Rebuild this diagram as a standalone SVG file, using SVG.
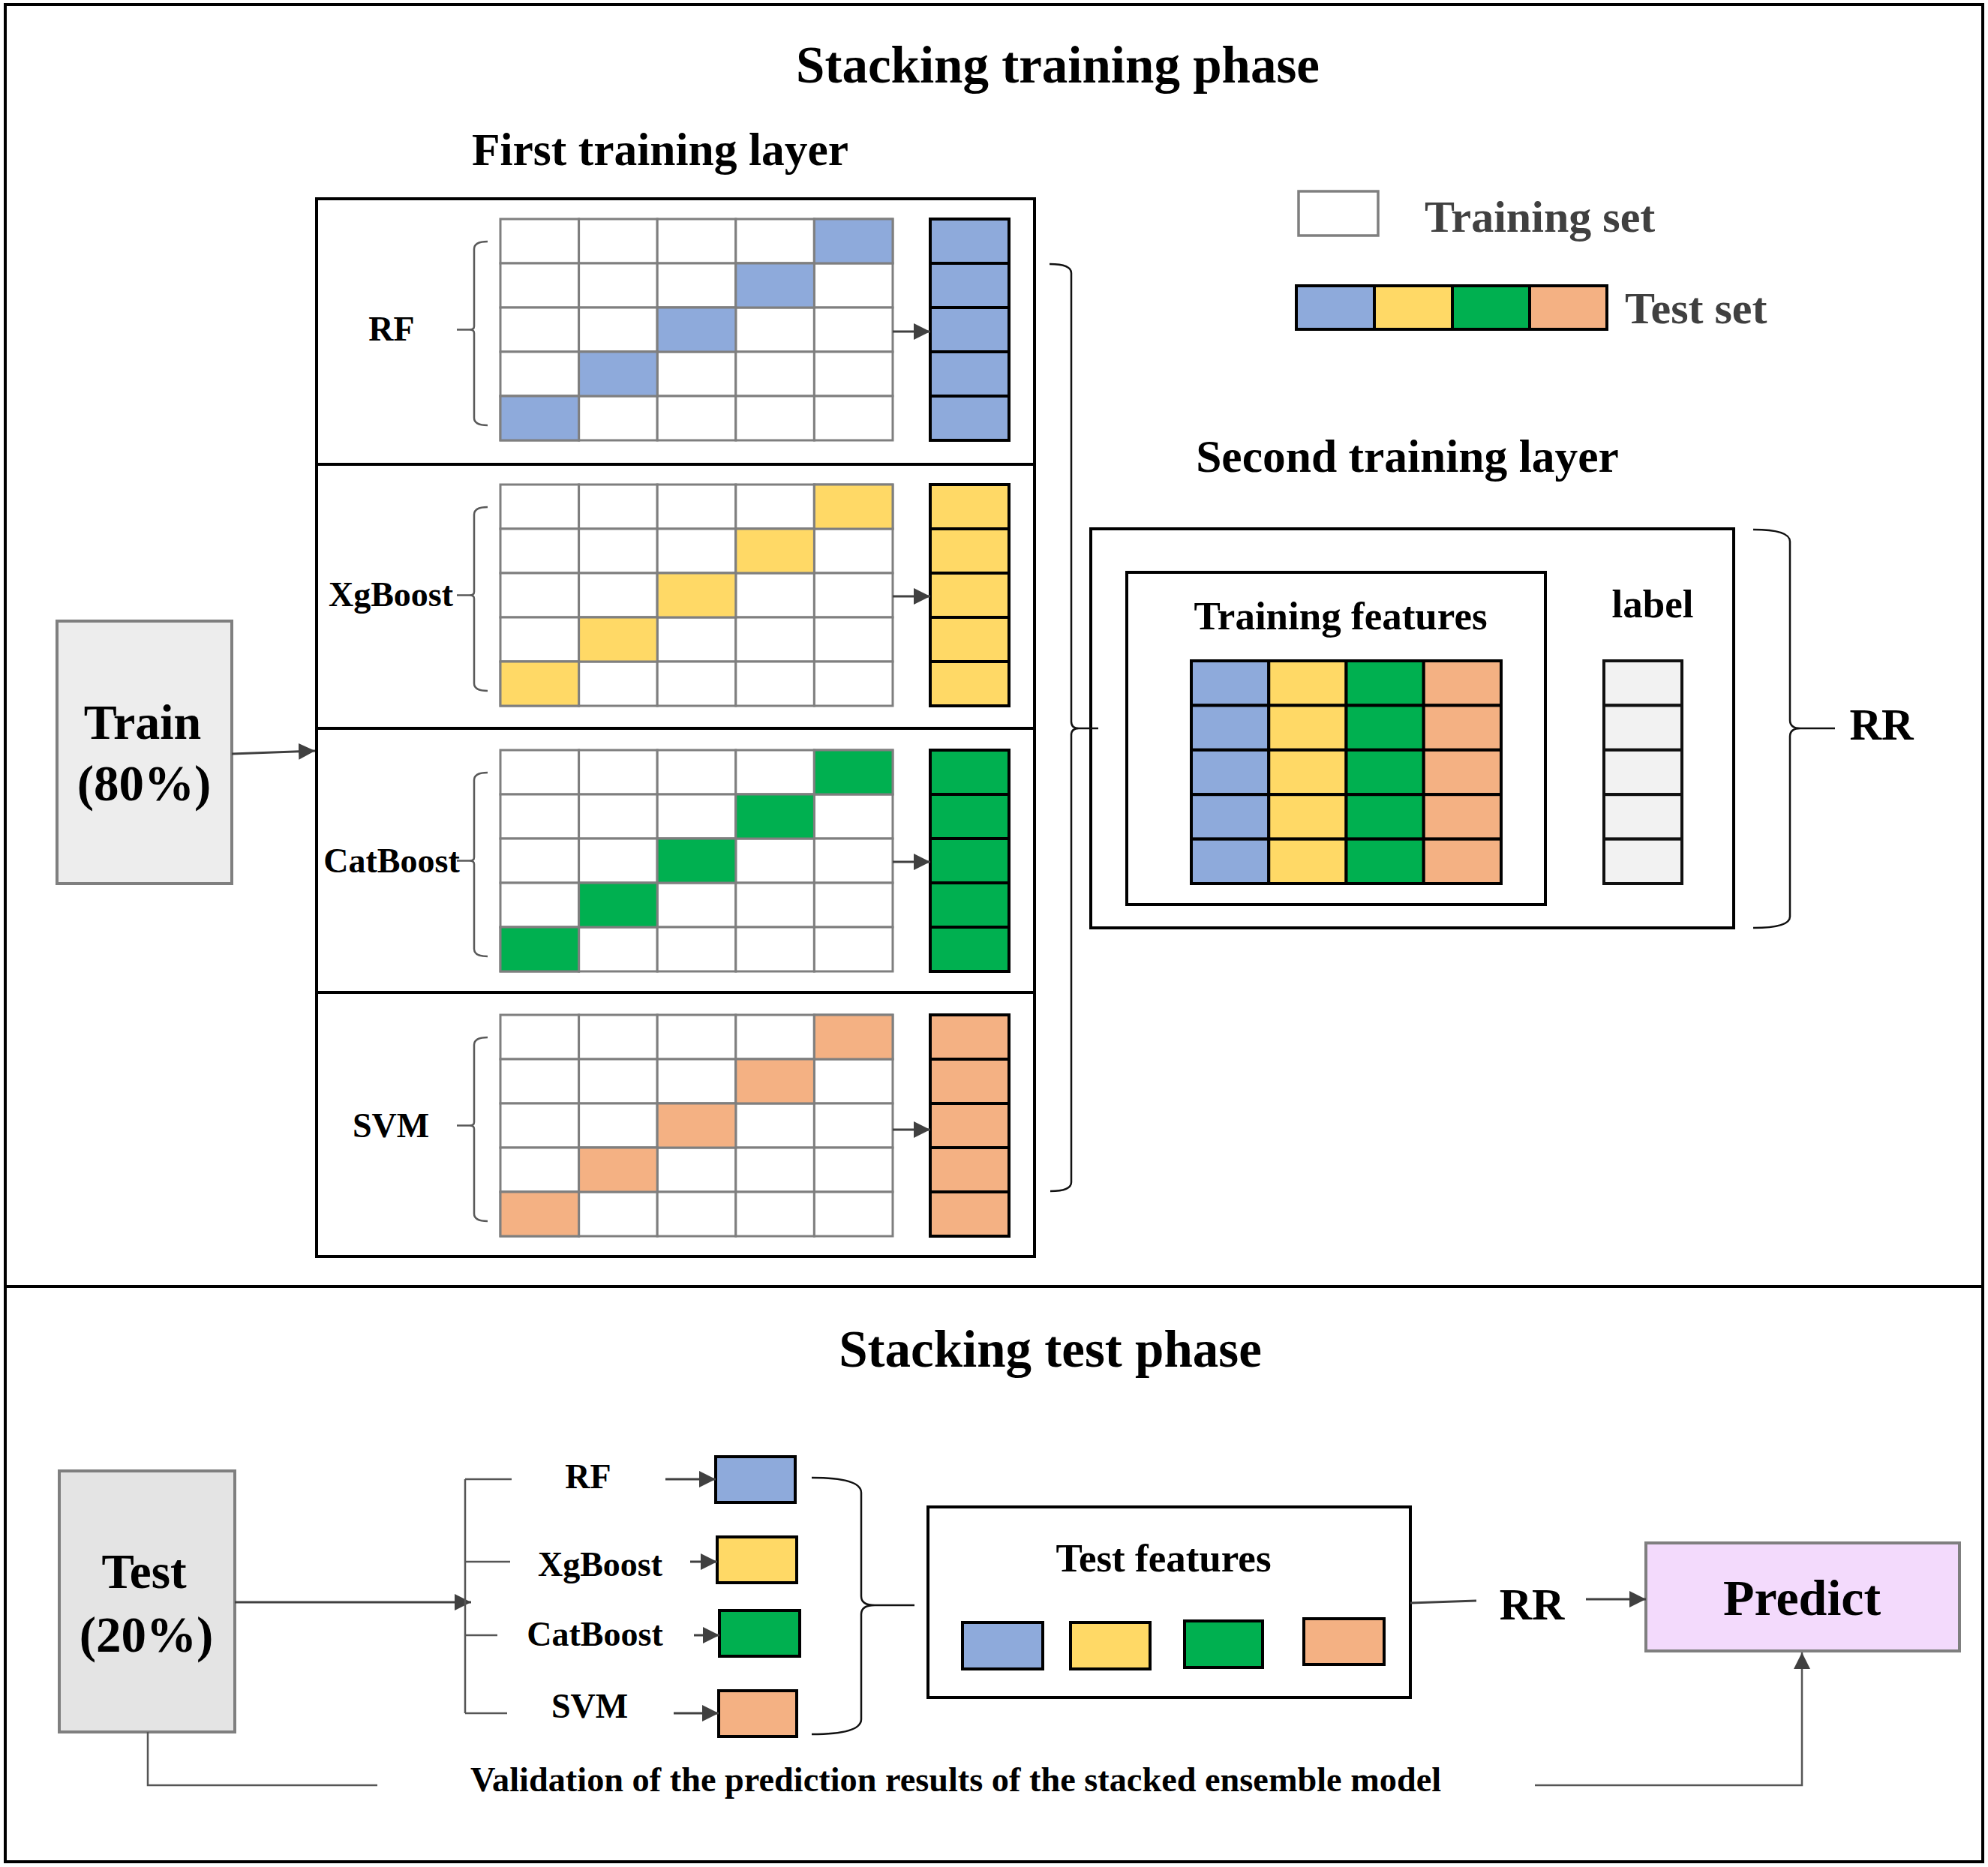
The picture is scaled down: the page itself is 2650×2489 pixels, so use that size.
<svg xmlns="http://www.w3.org/2000/svg" width="2650" height="2489" viewBox="0 0 2650 2489">
<defs>
<style>
text{font-family:"Liberation Serif","Times New Roman",serif;font-weight:bold;fill:#000}
.title{font-size:69px;text-anchor:middle}
.sub{font-size:61.5px;text-anchor:middle}
.lbl{font-size:46px;text-anchor:middle}
.leg{font-size:60px;fill:#404040}
.mid{font-size:53px;text-anchor:middle}
.cell{fill:#fff;stroke:#7f7f7f;stroke-width:3}
.res{stroke:#000;stroke-width:4}
.blk{stroke:#000;stroke-width:4}
.b{fill:#8eaadb}.y{fill:#ffd966}.g{fill:#00b050}.o{fill:#f4b183}
.brace{fill:none;stroke:#595959;stroke-width:2.5}
.bigbrace{fill:none;stroke:#111;stroke-width:2.5}
.con{fill:none;stroke:#404040;stroke-width:3}
.thin{fill:none;stroke:#555;stroke-width:2.5}
.panel{fill:#fff;stroke:#000;stroke-width:4}
</style>
<marker id="ah" viewBox="0 0 10 10" refX="10" refY="5" markerWidth="22" markerHeight="22" markerUnits="userSpaceOnUse" orient="auto">
<path d="M0,0 L10,5 L0,10 Z" fill="#404040"/>
</marker>
<g id="gridcells">
<rect class="cell" x="667" y="0" width="104.6" height="59"/><rect class="cell" x="771.6" y="0" width="104.6" height="59"/><rect class="cell" x="876.2" y="0" width="104.6" height="59"/><rect class="cell" x="980.8" y="0" width="104.6" height="59"/><rect class="cell" x="1085.4" y="0" width="104.6" height="59"/>
<rect class="cell" x="667" y="59" width="104.6" height="59"/><rect class="cell" x="771.6" y="59" width="104.6" height="59"/><rect class="cell" x="876.2" y="59" width="104.6" height="59"/><rect class="cell" x="980.8" y="59" width="104.6" height="59"/><rect class="cell" x="1085.4" y="59" width="104.6" height="59"/>
<rect class="cell" x="667" y="118" width="104.6" height="59"/><rect class="cell" x="771.6" y="118" width="104.6" height="59"/><rect class="cell" x="876.2" y="118" width="104.6" height="59"/><rect class="cell" x="980.8" y="118" width="104.6" height="59"/><rect class="cell" x="1085.4" y="118" width="104.6" height="59"/>
<rect class="cell" x="667" y="177" width="104.6" height="59"/><rect class="cell" x="771.6" y="177" width="104.6" height="59"/><rect class="cell" x="876.2" y="177" width="104.6" height="59"/><rect class="cell" x="980.8" y="177" width="104.6" height="59"/><rect class="cell" x="1085.4" y="177" width="104.6" height="59"/>
<rect class="cell" x="667" y="236" width="104.6" height="59"/><rect class="cell" x="771.6" y="236" width="104.6" height="59"/><rect class="cell" x="876.2" y="236" width="104.6" height="59"/><rect class="cell" x="980.8" y="236" width="104.6" height="59"/><rect class="cell" x="1085.4" y="236" width="104.6" height="59"/>
</g>
<path id="mbrace" class="brace" d="M650,30 Q632,30 632,40 L632,143 Q632,147.5 626,147.5 L609,147.5 M626,147.5 Q632,147.5 632,152 L632,265 Q632,275 650,275"/>
</defs>

<rect x="7" y="6" width="2636" height="2476" fill="#fff" stroke="#000" stroke-width="4"/>
<line x1="7" y1="1715" x2="2643" y2="1715" stroke="#000" stroke-width="4"/>

<text class="title" x="1410" y="110">Stacking training phase</text>
<text class="sub" x="880" y="220">First training layer</text>
<text class="sub" x="1876" y="629">Second training layer</text>
<text class="title" x="1400" y="1822">Stacking test phase</text>

<g id="legend">
<rect x="1731" y="255" width="106" height="59" fill="#fff" stroke="#7f7f7f" stroke-width="3.5"/>
<text class="leg" x="1899" y="309">Training set</text>
<rect class="b" x="1728" y="381" width="104" height="58"/><rect class="y" x="1832" y="381" width="104" height="58"/><rect class="g" x="1936" y="381" width="103" height="58"/><rect class="o" x="2039" y="381" width="103" height="58"/>
<g fill="none" stroke="#000" stroke-width="4"><rect x="1728" y="381" width="414" height="58"/><line x1="1832" y1="381" x2="1832" y2="439"/><line x1="1936" y1="381" x2="1936" y2="439"/><line x1="2039" y1="381" x2="2039" y2="439"/></g>
<text class="leg" x="2166" y="431">Test set</text>
</g>

<g id="train">
<rect x="76" y="828" width="233" height="350" fill="#ededed" stroke="#7f7f7f" stroke-width="4"/>
<text x="190" y="985" font-size="66" text-anchor="middle">Train</text>
<text x="192" y="1067" font-size="67" text-anchor="middle">(80%)</text>
</g>

<g id="panel-rf">
<rect class="panel" x="422" y="265" width="957" height="354"/>
<use href="#gridcells" y="292"/>
<rect class="b" x="1085.4" y="292" width="104.6" height="59" stroke="#7f7f7f" stroke-width="3"/>
<rect class="b" x="980.8" y="351" width="104.6" height="59" stroke="#7f7f7f" stroke-width="3"/>
<rect class="b" x="876.2" y="410" width="104.6" height="59" stroke="#7f7f7f" stroke-width="3"/>
<rect class="b" x="771.6" y="469" width="104.6" height="59" stroke="#7f7f7f" stroke-width="3"/>
<rect class="b" x="667" y="528" width="104.6" height="59" stroke="#7f7f7f" stroke-width="3"/>
<g class="res"><rect class="b" x="1240" y="292" width="105" height="59"/><rect class="b" x="1240" y="351" width="105" height="59"/><rect class="b" x="1240" y="410" width="105" height="59"/><rect class="b" x="1240" y="469" width="105" height="59"/><rect class="b" x="1240" y="528" width="105" height="59"/></g>
<use href="#mbrace" y="292"/>
<text class="lbl" x="522" y="454">RF</text>
</g>

<g id="panel-xgb">
<rect class="panel" x="422" y="619" width="957" height="352"/>
<use href="#gridcells" y="646"/>
<rect class="y" x="1085.4" y="646" width="104.6" height="59" stroke="#7f7f7f" stroke-width="3"/>
<rect class="y" x="980.8" y="705" width="104.6" height="59" stroke="#7f7f7f" stroke-width="3"/>
<rect class="y" x="876.2" y="764" width="104.6" height="59" stroke="#7f7f7f" stroke-width="3"/>
<rect class="y" x="771.6" y="823" width="104.6" height="59" stroke="#7f7f7f" stroke-width="3"/>
<rect class="y" x="667" y="882" width="104.6" height="59" stroke="#7f7f7f" stroke-width="3"/>
<g class="res"><rect class="y" x="1240" y="646" width="105" height="59"/><rect class="y" x="1240" y="705" width="105" height="59"/><rect class="y" x="1240" y="764" width="105" height="59"/><rect class="y" x="1240" y="823" width="105" height="59"/><rect class="y" x="1240" y="882" width="105" height="59"/></g>
<use href="#mbrace" y="646"/>
<text class="lbl" x="521" y="808">XgBoost</text>
</g>

<g id="panel-cat">
<rect class="panel" x="422" y="971" width="957" height="352"/>
<use href="#gridcells" y="1000"/>
<rect class="g" x="1085.4" y="1000" width="104.6" height="59" stroke="#7f7f7f" stroke-width="3"/>
<rect class="g" x="980.8" y="1059" width="104.6" height="59" stroke="#7f7f7f" stroke-width="3"/>
<rect class="g" x="876.2" y="1118" width="104.6" height="59" stroke="#7f7f7f" stroke-width="3"/>
<rect class="g" x="771.6" y="1177" width="104.6" height="59" stroke="#7f7f7f" stroke-width="3"/>
<rect class="g" x="667" y="1236" width="104.6" height="59" stroke="#7f7f7f" stroke-width="3"/>
<g class="res"><rect class="g" x="1240" y="1000" width="105" height="59"/><rect class="g" x="1240" y="1059" width="105" height="59"/><rect class="g" x="1240" y="1118" width="105" height="59"/><rect class="g" x="1240" y="1177" width="105" height="59"/><rect class="g" x="1240" y="1236" width="105" height="59"/></g>
<use href="#mbrace" y="1000"/>
<text class="lbl" x="522" y="1163">CatBoost</text>
</g>

<g id="panel-svm">
<rect class="panel" x="422" y="1323" width="957" height="352"/>
<use href="#gridcells" y="1353"/>
<rect class="o" x="1085.4" y="1353" width="104.6" height="59" stroke="#7f7f7f" stroke-width="3"/>
<rect class="o" x="980.8" y="1412" width="104.6" height="59" stroke="#7f7f7f" stroke-width="3"/>
<rect class="o" x="876.2" y="1471" width="104.6" height="59" stroke="#7f7f7f" stroke-width="3"/>
<rect class="o" x="771.6" y="1530" width="104.6" height="59" stroke="#7f7f7f" stroke-width="3"/>
<rect class="o" x="667" y="1589" width="104.6" height="59" stroke="#7f7f7f" stroke-width="3"/>
<g class="res"><rect class="o" x="1240" y="1353" width="105" height="59"/><rect class="o" x="1240" y="1412" width="105" height="59"/><rect class="o" x="1240" y="1471" width="105" height="59"/><rect class="o" x="1240" y="1530" width="105" height="59"/><rect class="o" x="1240" y="1589" width="105" height="59"/></g>
<use href="#mbrace" y="1353"/>
<text class="lbl" x="521" y="1516">SVM</text>
</g>

<g id="second-layer">
<rect x="1454" y="705" width="857" height="532" fill="#fff" stroke="#000" stroke-width="4"/>
<rect x="1502" y="763" width="558" height="443" fill="#fff" stroke="#000" stroke-width="4"/>
<text class="mid" x="1787" y="839">Training features</text>
<text class="mid" x="2203" y="823">label</text>
<g class="blk">
<rect class="b" x="1588" y="881" width="103.25" height="59.4"/><rect class="y" x="1691.25" y="881" width="103.25" height="59.4"/><rect class="g" x="1794.5" y="881" width="103.25" height="59.4"/><rect class="o" x="1897.75" y="881" width="103.25" height="59.4"/>
<rect class="b" x="1588" y="940.4" width="103.25" height="59.4"/><rect class="y" x="1691.25" y="940.4" width="103.25" height="59.4"/><rect class="g" x="1794.5" y="940.4" width="103.25" height="59.4"/><rect class="o" x="1897.75" y="940.4" width="103.25" height="59.4"/>
<rect class="b" x="1588" y="999.8" width="103.25" height="59.4"/><rect class="y" x="1691.25" y="999.8" width="103.25" height="59.4"/><rect class="g" x="1794.5" y="999.8" width="103.25" height="59.4"/><rect class="o" x="1897.75" y="999.8" width="103.25" height="59.4"/>
<rect class="b" x="1588" y="1059.2" width="103.25" height="59.4"/><rect class="y" x="1691.25" y="1059.2" width="103.25" height="59.4"/><rect class="g" x="1794.5" y="1059.2" width="103.25" height="59.4"/><rect class="o" x="1897.75" y="1059.2" width="103.25" height="59.4"/>
<rect class="b" x="1588" y="1118.6" width="103.25" height="59.4"/><rect class="y" x="1691.25" y="1118.6" width="103.25" height="59.4"/><rect class="g" x="1794.5" y="1118.6" width="103.25" height="59.4"/><rect class="o" x="1897.75" y="1118.6" width="103.25" height="59.4"/>
</g>
<g stroke="#111" stroke-width="4" fill="#f2f2f2">
<rect x="2138" y="881" width="104" height="59.4"/><rect x="2138" y="940.4" width="104" height="59.4"/><rect x="2138" y="999.8" width="104" height="59.4"/><rect x="2138" y="1059.2" width="104" height="59.4"/><rect x="2138" y="1118.6" width="104" height="59.4"/>
</g>
</g>

<g id="rr-train">
<text x="2508" y="986" font-size="59" text-anchor="middle">RR</text>
</g>

<g id="test">
<rect x="79" y="1961" width="234" height="348" fill="#e4e4e4" stroke="#7f7f7f" stroke-width="4"/>
<text x="192" y="2117" font-size="65" text-anchor="middle">Test</text>
<text x="195" y="2202" font-size="67" text-anchor="middle">(20%)</text>
</g>

<g id="test-models">
<text class="lbl" x="784" y="1984">RF</text>
<text class="lbl" x="800" y="2101">XgBoost</text>
<text class="lbl" x="793" y="2194">CatBoost</text>
<text class="lbl" x="786" y="2290">SVM</text>
<rect class="b blk" x="954" y="1942" width="106" height="61"/>
<rect class="y blk" x="956" y="2049" width="106" height="61"/>
<rect class="g blk" x="959" y="2147" width="107" height="61"/>
<rect class="o blk" x="958" y="2254" width="104" height="61"/>
</g>

<g id="test-features">
<rect x="1237" y="2009" width="643" height="254" fill="#fff" stroke="#000" stroke-width="4"/>
<text class="mid" x="1551" y="2095">Test features</text>
<rect class="b blk" x="1283" y="2163" width="107" height="62"/>
<rect class="y blk" x="1427" y="2163" width="106" height="62"/>
<rect class="g blk" x="1579" y="2161" width="104" height="62"/>
<rect class="o blk" x="1738" y="2158" width="107" height="61"/>
</g>

<g id="rr-test">
<text x="2042" y="2159" font-size="60" text-anchor="middle">RR</text>
</g>

<g id="predict">
<rect x="2194" y="2057" width="418" height="144" fill="#f3dafc" stroke="#7f7f7f" stroke-width="4"/>
<text x="2402" y="2153" font-size="68" text-anchor="middle">Predict</text>
</g>

<text x="1274" y="2388" font-size="46.3" text-anchor="middle">Validation of the prediction results of the stacked ensemble model</text>

<g id="connectors">
<line class="con" x1="309" y1="1005" x2="420" y2="1001" marker-end="url(#ah)"/>
<line class="con" x1="1190" y1="442" x2="1240" y2="442" marker-end="url(#ah)"/>
<line class="con" x1="1190" y1="795" x2="1240" y2="795" marker-end="url(#ah)"/>
<line class="con" x1="1190" y1="1149" x2="1240" y2="1149" marker-end="url(#ah)"/>
<line class="con" x1="1190" y1="1506" x2="1240" y2="1506" marker-end="url(#ah)"/>
<path class="bigbrace" d="M1399,352 Q1428,352 1428,364 L1428,962 Q1428,971 1438,971 L1464,971 M1438,971 Q1428,971 1428,980 L1428,1576 Q1428,1588 1400,1588"/>
<path class="bigbrace" d="M2337,706 Q2386,706 2386,722 L2386,960 Q2386,971 2400,971 L2446,971 M2400,971 Q2386,971 2386,982 L2386,1222 Q2386,1237 2337,1237"/>
<line class="con" x1="313" y1="2136" x2="628" y2="2136" marker-end="url(#ah)"/>
<path class="thin" d="M620,1972 V2284 M620,1972 H682 M620,2082 H680 M620,2180 H663 M620,2284 H676"/>
<line class="con" x1="887" y1="1972" x2="954" y2="1972" marker-end="url(#ah)"/>
<line class="con" x1="920" y1="2082" x2="956" y2="2082" marker-end="url(#ah)"/>
<line class="con" x1="925" y1="2180" x2="959" y2="2180" marker-end="url(#ah)"/>
<line class="con" x1="898" y1="2284" x2="958" y2="2284" marker-end="url(#ah)"/>
<path class="bigbrace" d="M1082,1970 Q1148,1970 1148,1990 L1148,2128 Q1148,2140 1166,2140 L1219,2140 M1166,2140 Q1148,2140 1148,2152 L1148,2292 Q1148,2312 1082,2312"/>
<line class="con" x1="1880" y1="2137" x2="1968" y2="2134"/>
<line class="con" x1="2114" y1="2132" x2="2194" y2="2132" marker-end="url(#ah)"/>
<path class="thin" d="M197,2309 V2380 H503"/>
<path class="thin" d="M2046,2380 H2402 V2203" marker-end="url(#ah)"/>
</g>
</svg>
